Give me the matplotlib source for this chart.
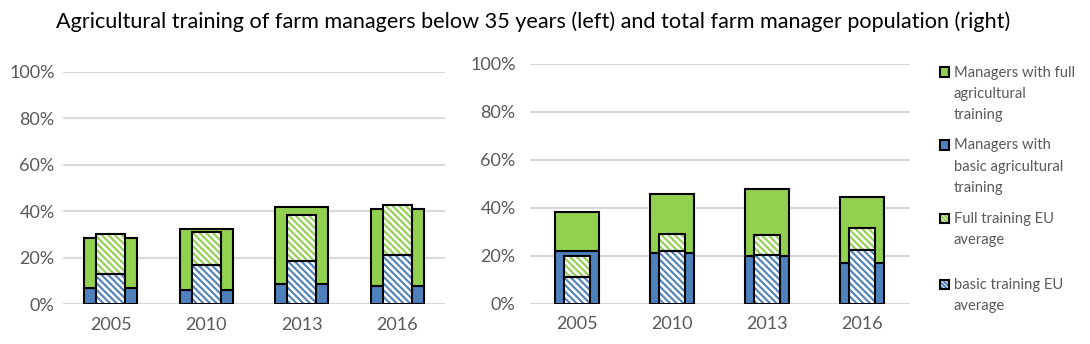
import matplotlib
matplotlib.use("Agg")
import matplotlib.pyplot as plt
from matplotlib.patches import Rectangle
import numpy as np

plt.rcParams['font.family'] = ['Lato', 'DejaVu Sans']
plt.rcParams['hatch.linewidth'] = 1.5

years = ["2005", "2010", "2013", "2016"]

# Left: farm managers below 35 years
young_basic = [7.1, 6.2, 8.7, 7.9]
young_full = [21.5, 26.2, 33.1, 33.1]
young_eu_basic = [13.0, 16.9, 18.8, 21.2]
young_eu_full = [17.2, 14.2, 19.7, 21.6]

# Right: total farm manager population
total_basic = [22.0, 21.1, 19.9, 17.0]
total_full = [16.3, 24.7, 27.9, 27.5]
total_eu_basic = [11.3, 22.1, 20.2, 22.5]
total_eu_full = [8.6, 6.9, 8.4, 9.0]

legend_labels = ["Managers with full\nagricultural\ntraining",
                 "Managers with\nbasic agricultural\ntraining",
                 "Full training EU\naverage",
                 "basic training EU\naverage"]

GREEN = "#92D050"
BLUE = "#4F81BD"
GRID = "#D9D9D9"
TXT = "#595959"
HATCH = "\\" * 5

fig = plt.figure(figsize=(10.9, 3.44), dpi=100)
axL = fig.add_axes([63/1090, 39.7/344, 382/1090, 232.5/344])
axR = fig.add_axes([529.5/1090, 40.3/344, 380/1090, 240/344])

def draw(ax, basic, full, eu_basic, eu_full, wide, narrow, pad):
    x = np.arange(len(years))
    ax.bar(x, basic, width=wide, color=BLUE, edgecolor="black", linewidth=1.5, zorder=2)
    ax.bar(x, full, bottom=basic, width=wide, color=GREEN, edgecolor="black", linewidth=1.5, zorder=2)
    ax.bar(x, eu_basic, width=narrow, color="white", edgecolor=BLUE, hatch=HATCH, linewidth=0, zorder=3)
    ax.bar(x, eu_basic, width=narrow, color="none", edgecolor="black", linewidth=1.5, zorder=4)
    ax.bar(x, eu_full, bottom=eu_basic, width=narrow, color="white", edgecolor=GREEN, hatch=HATCH, linewidth=0, zorder=3)
    ax.bar(x, eu_full, bottom=eu_basic, width=narrow, color="none", edgecolor="black", linewidth=1.5, zorder=4)
    ax.set_xlim(-0.5, len(years) - 0.5)
    ax.set_ylim(0, 100)
    ax.set_yticks(np.arange(0, 101, 20))
    ax.set_yticklabels([f"{v}%" for v in range(0, 101, 20)])
    ax.set_xticks(x)
    ax.set_xticklabels(years)
    ax.yaxis.grid(True, color=GRID, linewidth=1.5, zorder=0)
    ax.set_axisbelow(True)
    for s in ax.spines.values():
        s.set_visible(False)
    ax.tick_params(axis='both', length=0, labelsize=13, labelcolor=TXT)
    ax.tick_params(axis='y', pad=pad)
    ax.tick_params(axis='x', pad=9)

draw(axL, young_basic, young_full, young_eu_basic, young_eu_full, 0.55, 0.30, 6)
draw(axR, total_basic, total_full, total_eu_basic, total_eu_full, 0.47, 0.275, 10)

fig.text(533/1090, 1 - 22/344,
         "Agricultural training of farm managers below 35 years (left) and total farm manager population (right)",
         ha="center", va="center", fontsize=15.6, color="black")

# Legend (manual placement)
legend_y = [72, 145, 218, 284]
styles = [dict(facecolor=GREEN, hatch=None), dict(facecolor=BLUE, hatch=None),
          dict(facecolor="white", hatch="\\" * 8, hc=GREEN), dict(facecolor="white", hatch="\\" * 8, hc=BLUE)]
for lab, yy, st in zip(legend_labels, legend_y, styles):
    y0 = 1 - (yy + 4.5) / 344
    if st.get("hatch"):
        r = Rectangle((940/1090, y0), 9/1090, 9/344, transform=fig.transFigure,
                      facecolor="white", edgecolor=st["hc"], hatch=st["hatch"], linewidth=0)
        fig.add_artist(r)
        r2 = Rectangle((940/1090, y0), 9/1090, 9/344, transform=fig.transFigure,
                       facecolor="none", edgecolor="black", linewidth=1.5)
        fig.add_artist(r2)
    else:
        r = Rectangle((940/1090, y0), 9/1090, 9/344, transform=fig.transFigure,
                      facecolor=st["facecolor"], edgecolor="black", linewidth=1.5)
        fig.add_artist(r)
    fig.text(954/1090, 1 - (yy - 6.5) / 344, lab, ha="left", va="top", fontsize=10.6,
             color=TXT, linespacing=1.68)

fig.savefig("out.png", dpi=100)
